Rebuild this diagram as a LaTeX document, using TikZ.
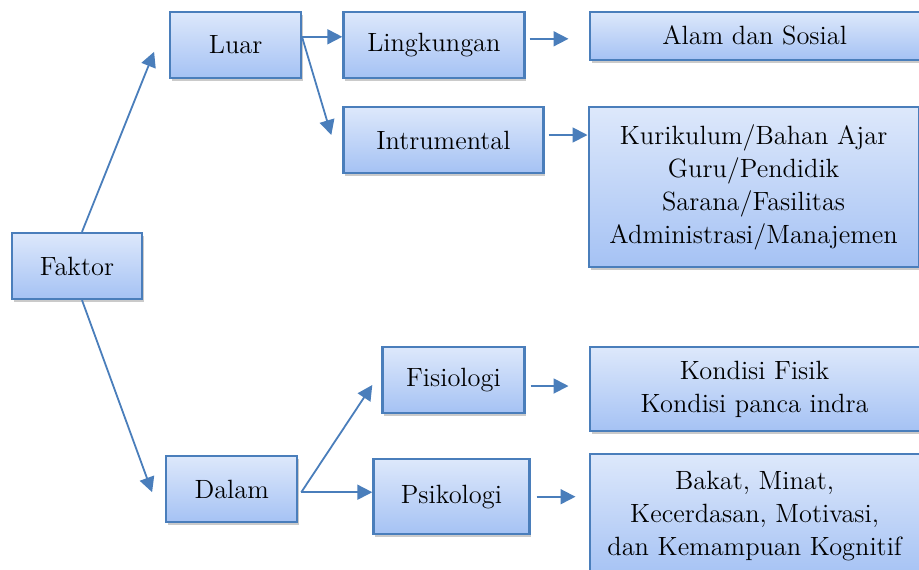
\documentclass[tikz,border=0pt]{standalone}
\usepackage{tikz}
\usepackage{xcolor}
\usetikzlibrary{positioning, arrows.meta, shadows}
\definecolor{Edge}{HTML}{4A7EBB}
\definecolor{FillTop}{HTML}{DDE8FB}
\definecolor{FillBot}{HTML}{A5C2F4}

\begin{document}
\begin{tikzpicture}[
    box/.style={draw=Edge, line width=1.1pt, top color=FillTop, bottom color=FillBot,
      minimum width=65pt, minimum height=33pt, inner sep=0pt, align=center,
      drop shadow={shadow xshift=1pt, shadow yshift=-1.5pt, opacity=0.35, fill=black!60}},
    wide/.style={box, minimum width=165pt},
    arr/.style={-{Triangle[length=7.5pt, width=7.5pt]}, line width=0.9pt, color=Edge},
    every node/.style={font=\fontsize{13.2}{16.5}\selectfont}
]
\useasboundingbox (0,0) rectangle (459.5pt,-284.5pt);

% Root
\node[box] (faktor) at (38.5pt,-133pt) {Faktor};

% Luar
\node[box, minimum width=65.5pt, above right=76.5pt and 13pt of faktor] (luar) {Luar};
\node[box, minimum width=90.5pt, right=20pt of luar] (ling) {Lingkungan};
\node[box, minimum width=100pt, below=13.5pt of ling.south west, anchor=north west] (intr) {Intrumental};
\node[wide, minimum height=24pt, right=31.5pt of ling.north east, anchor=north west] (alam) {Alam dan Sosial};
\node[wide, minimum height=80pt, right=21.5pt of intr.north east, anchor=north west] (kur)
  {Kurikulum/Bahan Ajar\\Guru/Pendidik\\Sarana/Fasilitas\\Administrasi/Manajemen};

% Dalam
\node[box, minimum width=65.5pt, below right=77.5pt and 11pt of faktor] (dalam) {Dalam};
\node[box, minimum width=71pt, above right=20.5pt and 41.5pt of dalam] (fisio) {Fisiologi};
\node[box, minimum width=78pt, minimum height=37.5pt, right=37pt of dalam.north east, anchor=north west, yshift=-1.5pt] (psiko) {Psikologi};
\node[wide, minimum height=42pt, right=31.5pt of fisio.north east, anchor=north west] (kond)
  {Kondisi Fisik\\Kondisi panca indra};
\node[wide, minimum height=61.5pt, below=10.5pt of kond.south west, anchor=north west] (bakat)
  {Bakat, Minat,\\Kecerdasan, Motivasi,\\dan Kemampuan Kognitif};

% loose arrow ends
\coordinate (luarin) at ([xshift=-7.5pt, yshift=-3.5pt]luar.west);
\coordinate (dalamin) at ([xshift=-6.5pt, yshift=-1.5pt]dalam.west);
\coordinate (intrin) at ([xshift=-5.5pt, yshift=2.5pt]intr.west);
\coordinate (dout) at ([xshift=1.5pt, yshift=-1.5pt]dalam.east);
\coordinate (fisioin) at ([xshift=-4.5pt, yshift=-2.5pt]fisio.west);

\draw[arr] ([xshift=2.5pt]faktor.north) -- (luarin);
\draw[arr] ([xshift=2.5pt]faktor.south) -- (dalamin);
\draw[arr] ([yshift=4pt]luar.east) -- ([yshift=4pt]luar.east -| ling.west);
\draw[arr] ([yshift=3.5pt]luar.east) -- (intrin);
\draw[arr, shorten <=2pt, shorten >=10pt] ([yshift=3pt]ling.east) -- ([yshift=3pt]ling.east -| alam.west);
\draw[arr, shorten <=2pt] ([yshift=2.5pt]intr.east) -- ([yshift=2.5pt]intr.east -| kur.west);
\draw[arr] (dout) -- (fisioin);
\draw[arr] (dout) -- (dout -| psiko.west);
\draw[arr, shorten <=2.5pt, shorten >=10pt] ([yshift=-3pt]fisio.east) -- ([yshift=-3pt]fisio.east -| kond.west);
\draw[arr, shorten <=3pt, shorten >=6.5pt] (psiko.east) -- (psiko.east -| bakat.west);

\end{tikzpicture}
\end{document}
